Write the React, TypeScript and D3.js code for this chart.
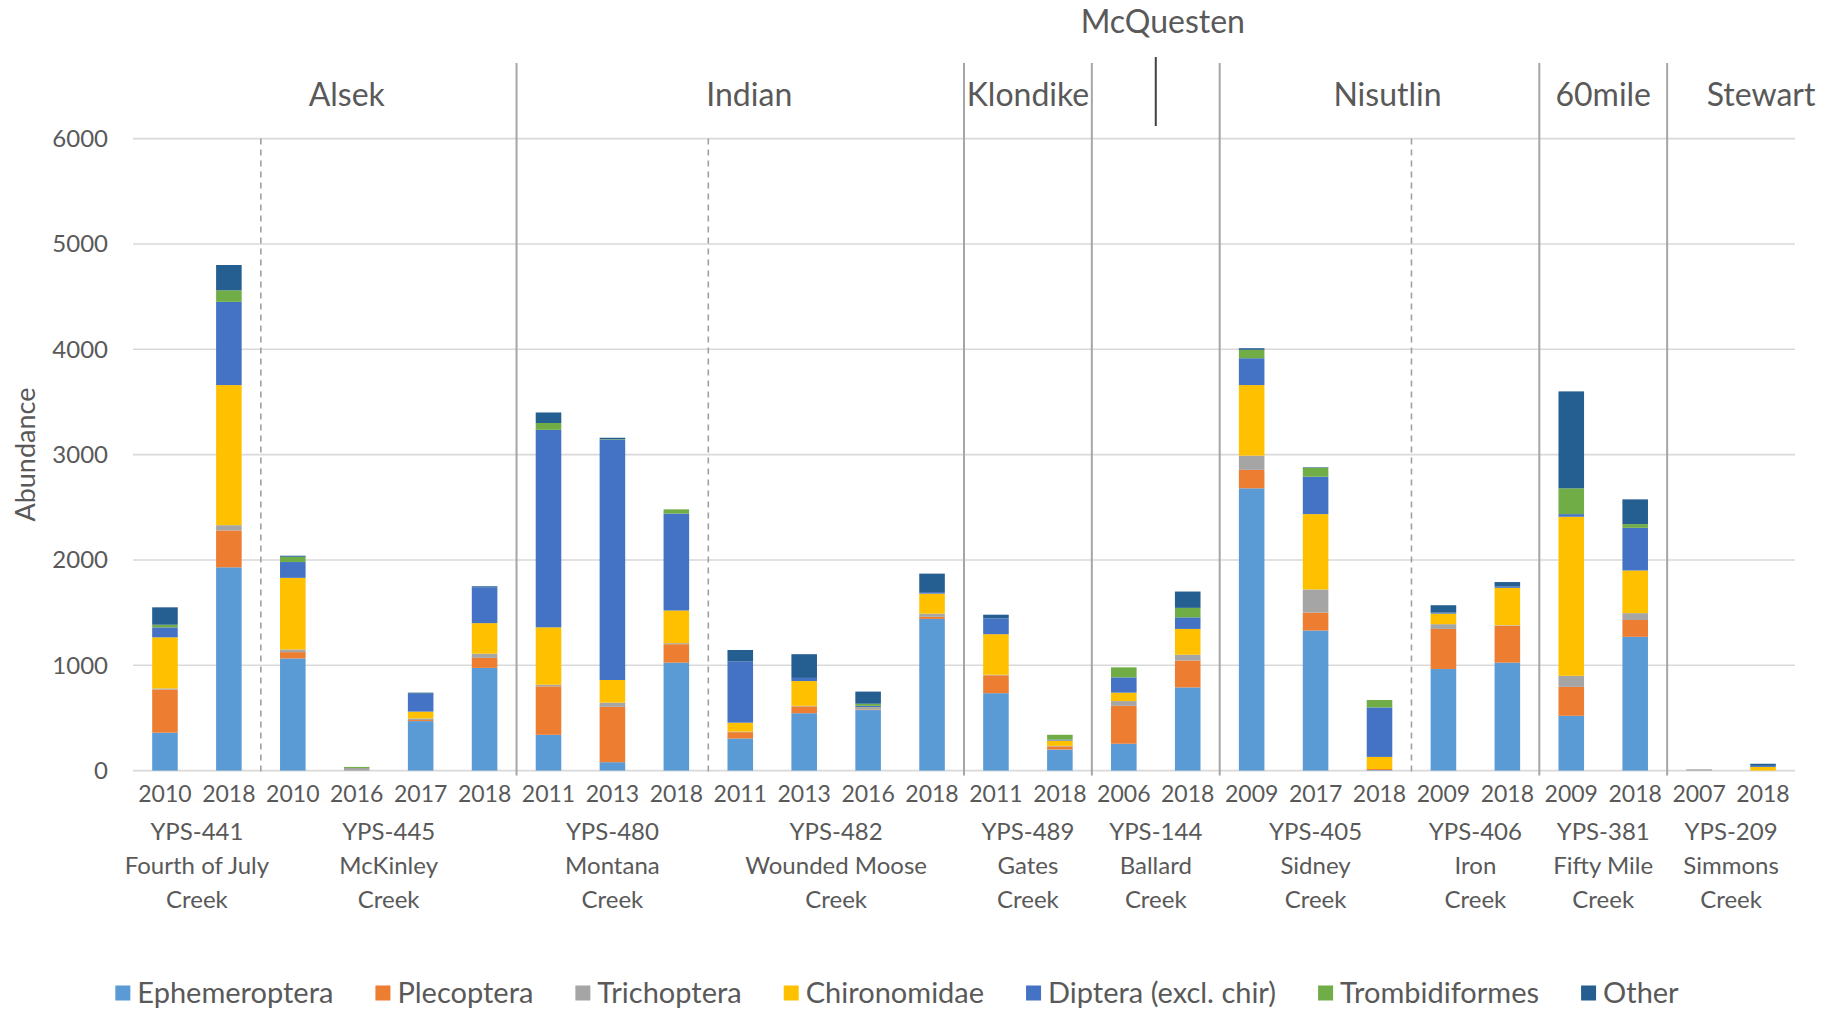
import React from "react";
import * as d3 from "d3";

// river basins, in display order
const rivers = ["Alsek", "Indian", "Klondike", "McQuesten", "Nisutlin", "60mile", "Stewart"];

// sites (one x group each)
const siteRiver = ["Alsek", "Alsek", "Indian", "Indian", "Klondike", "McQuesten", "Nisutlin", "Nisutlin", "60mile", "Stewart"];
const siteLabels = [
  ["YPS-441", "Fourth of July", "Creek"],
  ["YPS-445", "McKinley", "Creek"],
  ["YPS-480", "Montana", "Creek"],
  ["YPS-482", "Wounded Moose", "Creek"],
  ["YPS-489", "Gates", "Creek"],
  ["YPS-144", "Ballard", "Creek"],
  ["YPS-405", "Sidney", "Creek"],
  ["YPS-406", "Iron", "Creek"],
  ["YPS-381", "Fifty Mile", "Creek"],
  ["YPS-209", "Simmons", "Creek"],
];
const siteYears = [
  ["2010", "2018"],
  ["2010", "2016", "2017", "2018"],
  ["2011", "2013", "2018"],
  ["2011", "2013", "2016", "2018"],
  ["2011", "2018"],
  ["2006", "2018"],
  ["2009", "2017", "2018"],
  ["2009", "2018"],
  ["2009", "2018"],
  ["2007", "2018"],
];

// abundance per bar (26 bars, same order as siteYears flattened)
const ephemeroptera = [360, 1930, 1065, 0, 470, 975, 340, 80, 1025, 305, 545, 575, 1440, 735, 200, 255, 790, 2680, 1330, 5, 965, 1025, 520, 1270, 0, 0];
const plecoptera = [410, 350, 60, 0, 10, 95, 460, 525, 175, 60, 65, 5, 20, 170, 30, 360, 255, 175, 170, 10, 380, 350, 275, 160, 0, 0];
const trichoptera = [10, 50, 25, 25, 15, 40, 15, 40, 10, 5, 5, 15, 30, 5, 5, 45, 55, 135, 220, 0, 45, 5, 105, 65, 12, 0];
const chironomidae = [485, 1330, 680, 0, 65, 290, 545, 215, 310, 85, 235, 5, 190, 385, 50, 80, 245, 670, 715, 115, 100, 355, 1510, 405, 0, 35];
const diptera = [95, 790, 150, 0, 170, 340, 1875, 2280, 920, 580, 30, 15, 15, 150, 10, 145, 110, 255, 355, 470, 10, 15, 25, 405, 0, 10];
const trombidiformes = [25, 110, 50, 10, 0, 0, 65, 5, 40, 0, 0, 20, 0, 0, 45, 95, 90, 80, 85, 70, 0, 0, 245, 35, 0, 0];
const other = [165, 240, 10, 0, 10, 10, 100, 15, 0, 110, 225, 115, 175, 35, 0, 0, 155, 15, 5, 0, 70, 40, 920, 235, 0, 20];

const seriesNames = ["Ephemeroptera", "Plecoptera", "Trichoptera", "Chironomidae", "Diptera (excl. chir)", "Trombidiformes", "Other"];
const seriesValues = [ephemeroptera, plecoptera, trichoptera, chironomidae, diptera, trombidiformes, other];
const colors = ["#5B9BD5", "#ED7D31", "#A5A5A5", "#FFC000", "#4472C4", "#70AD47", "#255E91"];

const yTicks = [0, 1000, 2000, 3000, 4000, 5000, 6000];

const width = 1842,
  height = 1011;
const plot = { left: 133, right: 1795, top: 138.6, bottom: 770.6 };
const font = "Lato, 'Open Sans', sans-serif";
const textColor = "#595959";

// labels that were hand-placed in the original
const riverNudge: Record<string, number> = { Alsek: 22, Indian: 9, Nisutlin: 8, Stewart: 30 };
const raisedRivers = ["McQuesten"];

const measure = (() => {
  const c = document.createElement("canvas").getContext("2d")!;
  return (s: string, size: number) => {
    c.font = `${size}px Lato`;
    return c.measureText(s).width;
  };
})();

export default function App() {
  const bars = siteYears.flatMap((ys, s) => ys.map((yr, j) => ({ id: `${s}-${j}`, year: yr, site: s })));
  const rows = bars.map((b, i) => {
    const r: any = { id: b.id };
    seriesNames.forEach((n, k) => (r[n] = seriesValues[k][i]));
    return r;
  });

  const x = d3
    .scaleBand()
    .domain(bars.map((b) => b.id))
    .range([plot.left, plot.right])
    .paddingInner(0.6)
    .paddingOuter(0.3);
  const y = d3.scaleLinear().domain([0, 6000]).range([plot.bottom, plot.top]);

  const stack = d3.stack().keys(seriesNames)(rows);
  const half = (x.step() - x.bandwidth()) / 2;
  const slotStart = (i: number) => (x(bars[i].id) as number) - half;
  const slotEnd = (i: number) => (x(bars[i].id) as number) + x.bandwidth() + half;

  // site spans
  let acc = 0;
  const siteSpans = siteYears.map((ys, s) => {
    const first = acc;
    acc += ys.length;
    return { s, first, last: acc - 1, x0: slotStart(first), x1: slotEnd(acc - 1) };
  });

  const riverSpans = rivers.map((r) => {
    const ss = siteSpans.filter((sp) => siteRiver[sp.s] === r);
    return { r, x0: ss[0].x0, x1: ss[ss.length - 1].x1 };
  });

  const separators = siteSpans.slice(1).map((sp) => ({
    x: sp.x0,
    solid: siteRiver[sp.s] !== siteRiver[sp.s - 1],
  }));

  // legend layout
  const legFont = 29,
    sq = 15,
    sqGap = 7,
    itemGap = 42;
  const itemW = seriesNames.map((n) => sq + sqGap + measure(n, legFont));
  const legTotal = d3.sum(itemW) + itemGap * (seriesNames.length - 1);
  let lx = 897 - legTotal / 2;
  const legendItems = seriesNames.map((n, i) => {
    const it = { n, i, x: lx };
    lx += itemW[i] + itemGap;
    return it;
  });

  return (
    <svg
      width={width}
      height={height}
      style={{ position: "absolute", left: 0, top: 0, background: "#fff" }}
      fontFamily={font}
    >
      <rect width={width} height={height} fill="#fff" />
      {/* gridlines */}
      {yTicks.map((t) => (
        <g key={t}>
          <line x1={plot.left} x2={plot.right} y1={y(t)} y2={y(t)} stroke="#D9D9D9" strokeWidth={1.6} />
          <text x={108} y={y(t)} dy="0.35em" textAnchor="end" fontSize={24} fill={textColor}>
            {t}
          </text>
        </g>
      ))}

      {/* separators */}
      {separators.map((s, i) => (
        <line
          key={i}
          x1={s.x}
          x2={s.x}
          y1={s.solid ? 63 : y(6000)}
          y2={plot.bottom + 5}
          stroke={s.solid ? "#A6A6A6" : "#A0A0A0"}
          strokeWidth={s.solid ? 2 : 1.6}
          strokeDasharray={s.solid ? undefined : "6 5"}
        />
      ))}

      {/* bars */}
      {stack.map((layer, k) => (
        <g key={seriesNames[k]} fill={colors[k]}>
          {layer.map((d, i) => (
            <rect
              key={i}
              x={x(bars[i].id)}
              width={x.bandwidth()}
              y={y(d[1])}
              height={Math.max(0, y(d[0]) - y(d[1]))}
            />
          ))}
        </g>
      ))}

      {/* year labels */}
      {bars.map((b) => (
        <text
          key={b.id}
          x={(x(b.id) as number) + x.bandwidth() / 2}
          y={794}
          dy="0.35em"
          textAnchor="middle"
          fontSize={23}
          fill={textColor}
        >
          {b.year}
        </text>
      ))}

      {/* site labels */}
      {siteSpans.map((sp) => (
        <text key={sp.s} textAnchor="middle" fontSize={24} fill={textColor}>
          {siteLabels[sp.s].map((l, j) => (
            <tspan key={j} x={(sp.x0 + sp.x1) / 2} y={832 + j * 34} dy="0.35em">
              {l}
            </tspan>
          ))}
        </text>
      ))}

      {/* river labels */}
      {riverSpans.map((rs) => {
        const cx = (rs.x0 + rs.x1) / 2 + (riverNudge[rs.r] || 0);
        const raised = raisedRivers.includes(rs.r);
        return (
          <g key={rs.r}>
            <text x={cx + (raised ? 7 : 0)} y={raised ? 22 : 95} dy="0.35em" textAnchor="middle" fontSize={32} fill={textColor}>
              {rs.r}
            </text>
            {raised && <line x1={cx} x2={cx} y1={57} y2={126} stroke="#404040" strokeWidth={2} />}
          </g>
        );
      })}

      {/* axis title */}
      <text
        transform={`translate(26,${(plot.top + plot.bottom) / 2}) rotate(-90)`}
        dy="0.35em"
        textAnchor="middle"
        fontSize={27}
        fill={textColor}
      >
        Abundance
      </text>

      {/* legend */}
      {legendItems.map((it) => (
        <g key={it.n} transform={`translate(${it.x},993)`}>
          <rect x={0} y={-sq / 2} width={sq} height={sq} fill={colors[it.i]} />
          <text x={sq + sqGap} dy="0.35em" fontSize={legFont} fill={textColor}>
            {it.n}
          </text>
        </g>
      ))}
    </svg>
  );
}
